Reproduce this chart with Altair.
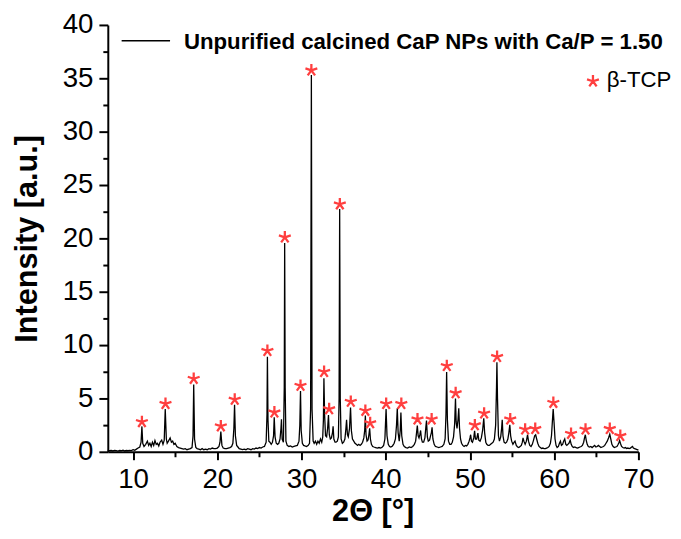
import altair as alt
import pandas as pd

# ---- XRD profile (2theta [deg], intensity [a.u.]) ----
seg_07_13 = [(7.0, .15), (7.2, .1), (7.4, .12), (7.6, .08), (7.8, .14), (8.0, .1), (8.2, .06), (8.4, .12),
             (8.6, .1), (8.8, .15), (9.0, .08), (9.2, .12), (9.4, .1), (9.6, .14), (9.8, .12), (10.0, .2),
             (10.2, .15), (10.4, .25), (10.6, .35), (10.8, .45), (10.95, .9), (11.05, 2.38), (11.15, .8),
             (11.3, .5), (11.5, .7), (11.7, 1.0), (11.85, .6), (12.0, .8), (12.15, .5), (12.3, .9),
             (12.45, .6), (12.6, 1.05), (12.75, .7), (12.9, .8)]
seg_13_20 = [(13.05, .55), (13.2, .9), (13.4, 1.1), (13.55, .7), (13.7, 1.1), (13.82, 4.0), (13.95, 1.2),
             (14.05, .8), (14.2, 1.0), (14.4, 1.3), (14.55, .9), (14.7, 1.0), (14.85, .7), (15.0, .8),
             (15.2, .5), (15.4, .4), (15.6, .35), (15.8, .3), (16.0, .25), (16.2, .3), (16.4, .2),
             (16.6, .25), (16.8, .3), (17.0, .4), (17.12, 1.5), (17.2, 6.3), (17.3, 1.2), (17.45, .4),
             (17.6, .3), (17.8, .25), (18.0, .2), (18.2, .3), (18.4, .2), (18.6, .25), (18.8, .2),
             (19.0, .3), (19.2, .25), (19.4, .35), (19.6, .3), (19.8, .3)]
seg_20_27 = [(20.0, .35), (20.2, .5), (20.32, .9), (20.42, 1.9), (20.55, .6), (20.7, .35), (20.9, .3),
             (21.1, .3), (21.3, .35), (21.5, .4), (21.7, .5), (21.85, .8), (21.97, 2.2), (22.05, 4.4),
             (22.15, 1.5), (22.3, .6), (22.45, .45), (22.6, .3), (22.8, .25), (23.0, .2), (23.2, .25),
             (23.4, .2), (23.6, .3), (23.8, .25), (24.0, .2), (24.2, .3), (24.4, .25), (24.6, .35),
             (24.8, .3), (25.0, .4), (25.2, .35), (25.4, .45), (25.6, .5), (25.8, .9), (25.9, 3.5),
             (25.95, 8.9), (26.02, 3.0), (26.12, 1.0), (26.25, .9), (26.4, .7), (26.55, .9),
             (26.68, 1.5), (26.76, 3.24), (26.86, 1.4)]
seg_27_33 = [(27.0, .8), (27.15, .7), (27.3, .8), (27.45, 1.2), (27.56, 2.2), (27.62, 3.05), (27.7, 1.2),
             (27.85, .9), (27.95, 6.0), (28.0, 19.56), (28.06, 6.0), (28.15, 1.0), (28.3, .6), (28.5, .5),
             (28.7, .55), (28.9, .45), (29.1, .5), (29.3, .55), (29.5, .6), (29.7, 1.0), (29.8, 2.5),
             (29.88, 5.7), (29.96, 2.0), (30.1, .8), (30.25, .6), (30.4, .55), (30.6, .5), (30.8, .6),
             (30.95, .8), (31.08, 4.0), (31.17, 35.3), (31.25, 4.0), (31.38, 1.0), (31.5, .8),
             (31.65, 1.0), (31.8, .7), (31.95, 1.0), (32.1, .8), (32.25, 1.2), (32.4, .9), (32.52, 1.4),
             (32.6, 3.0), (32.66, 6.9), (32.74, 3.5), (32.85, 1.5), (32.98, 1.4)]
seg_33_40 = [(33.1, 2.2), (33.2, 3.45), (33.3, 1.6), (33.42, 1.2), (33.55, 1.3), (33.68, 1.8), (33.75, 2.4),
             (33.84, 1.2), (33.98, .9), (34.1, .9), (34.25, 1.0), (34.38, 1.4), (34.46, 5.0),
             (34.53, 22.75), (34.6, 5.0), (34.7, 1.2), (34.85, .8), (35.0, .9), (35.15, 1.2), (35.25, 2.0),
             (35.35, 3.0), (35.45, 1.6), (35.55, 1.4), (35.7, 2.2), (35.82, 4.15), (35.92, 2.0),
             (36.05, 1.2), (36.2, 1.0), (36.35, .8), (36.5, .7), (36.65, .6), (36.8, .7), (36.95, .6),
             (37.1, .7), (37.25, .9), (37.4, 1.3), (37.5, 2.0), (37.58, 3.4), (37.66, 1.6), (37.78, 1.0),
             (37.9, 1.1), (38.0, 1.6), (38.09, 2.2), (38.18, 1.2), (38.3, .7), (38.45, .5), (38.6, .45),
             (38.8, .4), (39.0, .35), (39.2, .4), (39.4, .35), (39.6, .45), (39.75, .6), (39.9, 1.2)]
seg_40_47 = [(40.04, 4.0), (40.15, 1.5), (40.3, .7), (40.45, .5), (40.6, .45), (40.8, .55), (41.0, .8),
             (41.15, 1.2), (41.28, 2.5), (41.37, 4.07), (41.47, 1.8), (41.6, 1.0), (41.72, 2.0),
             (41.8, 3.67), (41.9, 1.5), (42.05, .7), (42.2, .5), (42.4, .4), (42.6, .35), (42.8, .45),
             (43.0, .4), (43.2, .5), (43.4, .7), (43.55, 1.0), (43.66, 1.8), (43.75, 2.47), (43.85, 1.5),
             (43.95, 1.3), (44.05, 1.6), (44.14, 2.0), (44.24, 1.2), (44.35, .9), (44.5, .9), (44.65, 1.3),
             (44.76, 2.3), (44.84, 2.93), (44.94, 1.4), (45.05, 1.0), (45.2, 1.1), (45.32, 1.5),
             (45.42, 1.8), (45.5, 2.3), (45.6, 1.2), (45.75, .7), (45.9, .5), (46.1, .45), (46.3, .4),
             (46.5, .45), (46.7, .5), (46.9, .7)]
seg_47_53 = [(47.05, 1.2), (47.15, 3.5), (47.23, 7.47), (47.32, 3.0), (47.45, 1.0), (47.6, .7), (47.75, .7),
             (47.9, .9), (48.05, 1.4), (48.18, 2.6), (48.28, 5.0), (48.36, 2.8), (48.46, 2.2), (48.58, 3.0),
             (48.67, 4.07), (48.76, 2.2), (48.88, 1.2), (49.0, .8), (49.15, .6), (49.3, .5), (49.45, .6),
             (49.6, .55), (49.75, .7), (49.9, 1.0), (50.0, 1.3), (50.08, 1.6), (50.18, 1.0), (50.3, .9),
             (50.45, 1.3), (50.55, 1.97), (50.65, 1.2), (50.8, 1.2), (50.94, 1.75), (51.05, 1.1),
             (51.2, 1.0), (51.35, 1.3), (51.5, 2.0), (51.64, 3.15), (51.74, 1.8), (51.88, .9), (52.0, .7),
             (52.15, .6), (52.3, .6), (52.45, .7), (52.6, .8), (52.75, .9), (52.9, 1.2)]
seg_53_60 = [(53.05, 2.5), (53.15, 6.0), (53.2, 8.4), (53.27, 5.0), (53.38, 1.5), (53.5, 1.0), (53.65, 1.4),
             (53.76, 2.2), (53.83, 3.0), (53.92, 1.5), (54.05, .9), (54.2, .8), (54.35, .9), (54.5, 1.2),
             (54.62, 1.8), (54.73, 2.53), (54.83, 1.5), (54.95, 1.0), (55.1, .7), (55.25, .9), (55.35, 1.0),
             (55.5, .6), (55.65, .45), (55.8, .4), (55.95, .5), (56.1, .6), (56.22, .9), (56.3, 1.3),
             (56.4, 1.0), (56.55, .7), (56.7, 1.0), (56.84, 1.6), (56.95, 1.0), (57.1, .6), (57.25, .5),
             (57.4, .7), (57.55, 1.1), (57.68, 1.5), (57.8, 1.6), (57.92, 1.2), (58.05, .8), (58.2, .5),
             (58.35, .4), (58.5, .3), (58.65, .35), (58.8, .3), (58.95, .3), (59.1, .35), (59.25, .4),
             (59.4, .5), (59.55, .8), (59.68, 1.5), (59.78, 2.8)]
seg_60_70 = [(59.88, 4.0), (59.98, 2.8), (60.1, 1.2), (60.22, .6), (60.35, .4), (60.5, .5), (60.62, .8),
             (60.74, 1.0), (60.86, .6), (61.0, .7), (61.12, 1.0), (61.25, 1.2), (61.38, .7), (61.5, .6),
             (61.62, .7), (61.75, .8), (61.9, 1.1), (62.02, .7), (62.15, .5), (62.3, .4), (62.45, .45),
             (62.6, .4), (62.75, .35), (62.9, .4), (63.05, .45), (63.2, .5), (63.35, .6), (63.5, .9),
             (63.6, 1.3), (63.7, 1.6), (63.8, 1.1), (63.92, .7), (64.05, .5), (64.2, .45), (64.35, .5),
             (64.5, .4), (64.65, .5), (64.8, .6), (64.95, .45), (65.1, .5), (65.25, .6), (65.4, .5),
             (65.55, .4), (65.7, .45), (65.85, .5), (66.0, .6), (66.15, .8), (66.3, 1.0), (66.45, 1.3),
             (66.6, 1.65), (66.72, 1.2), (66.85, .7), (67.0, .5), (67.15, .4), (67.3, .45), (67.45, .5),
             (67.6, .7), (67.7, .9), (67.77, 1.05), (67.86, .8), (68.0, .5), (68.15, .4), (68.3, .35),
             (68.45, .4), (68.6, .3), (68.75, .35), (68.9, .3), (69.05, .35), (69.2, .45), (69.3, .5),
             (69.4, .35), (69.55, .3), (69.7, .25), (69.85, .2), (70.0, .15)]

# ---- beta-TCP markers (asterisks) ----
star_2theta = [11.05, 13.85, 17.2, 20.42, 22.07, 25.95, 26.78, 28.02, 29.88, 31.17, 32.68, 33.28,
               34.55, 35.85, 37.58, 38.15, 40.05, 41.85, 43.77, 45.45, 47.25, 48.3, 50.58, 51.68,
               53.22, 54.78, 56.55, 57.75, 59.9, 62.0, 63.72, 66.6, 67.85]
star_intensity = [2.8, 4.5, 6.85, 2.4, 4.9, 9.47, 3.7, 20.1, 6.2, 35.75, 7.5, 4.0,
                  23.2, 4.7, 3.85, 2.7, 4.5, 4.5, 3.05, 3.05, 8.05, 5.5, 2.5, 3.6,
                  8.9, 3.05, 2.1, 2.15, 4.6, 1.7, 2.1, 2.15, 1.5]

series_label = "Unpurified calcined CaP NPs with Ca/P = 1.50"
phase_label = "β-TCP"

x_major = [10, 20, 30, 40, 50, 60, 70]
x_minor = [15, 25, 35, 45, 55, 65]
y_major = [0, 5, 10, 15, 20, 25, 30, 35, 40]
y_minor = [2.5, 7.5, 12.5, 17.5, 22.5, 27.5, 32.5, 37.5]

profile = (seg_07_13 + seg_13_20 + seg_20_27 + seg_27_33 + seg_33_40 +
           seg_40_47 + seg_47_53 + seg_53_60 + seg_60_70)
df = pd.DataFrame(profile, columns=["tt", "I"])
df_star = pd.DataFrame({"tt": star_2theta, "I": star_intensity})

FONT = "Liberation Sans"
RED = "#ff3f3f"
STAR = ("M0,-1L0,0M0.951,-0.309L0,0M0.588,0.809L0,0"
        "M-0.588,0.809L0,0M-0.951,-0.309L0,0")

xs = alt.Scale(domain=[7, 70], nice=False, zero=False)
ys = alt.Scale(domain=[0, 40], nice=False, zero=False)

common_axis = dict(domainColor="black", domainWidth=2, tickColor="black", tickWidth=2,
                   labelFont=FONT, labelColor="black", labelFontSize=28, grid=False,
                   labelFlush=False, labelOverlap=False,
                   titleFont=FONT, titleColor="black", titleFontWeight="bold", titleFontSize=31)

x_ax = alt.Axis(values=x_major, tickSize=8, labelPadding=6, orient="bottom",
                title="2Θ [°]", titleX=268, titleY=61, titleBaseline="middle",
                titleAlign="center", format="d", **common_axis)
y_ax = alt.Axis(values=y_major, tickSize=9, labelPadding=6, orient="left",
                title="Intensity [a.u.]", titleX=-81, titleY=216, titleAngle=-90,
                titleBaseline="middle", titleAlign="center", format="d", **common_axis)
x_ax_minor = alt.Axis(values=x_minor, tickSize=5, labels=False, domain=False, title=None,
                      orient="bottom", grid=False, tickColor="black", tickWidth=2)
y_ax_minor = alt.Axis(values=y_minor, tickSize=5, labels=False, domain=False, title=None,
                      orient="left", grid=False, tickColor="black", tickWidth=2)

line = alt.Chart(df).mark_line(color="black", strokeWidth=1.3, interpolate="linear").encode(
    x=alt.X("tt:Q", scale=xs, axis=x_ax),
    y=alt.Y("I:Q", scale=ys, axis=y_ax),
)

stars = alt.Chart(df_star).mark_point(shape=STAR, filled=False, color=RED, size=160,
                                      strokeWidth=2.3, opacity=1).encode(
    x=alt.X("tt:Q", scale=xs, axis=x_ax_minor),
    y=alt.Y("I:Q", scale=ys, axis=y_ax_minor),
)

leg_df = pd.DataFrame({"series": [series_label], "phase": [phase_label]})
leg_line = alt.Chart(leg_df).mark_rule(color="black", strokeWidth=1.3).encode(
    x=alt.value(14), x2=alt.value(63), y=alt.value(16))
leg_text = alt.Chart(leg_df).mark_text(font=FONT, fontSize=22.5, fontWeight="bold", color="black",
                                       align="left", baseline="middle").encode(
    x=alt.value(77), y=alt.value(17), text="series:N")
leg_star = alt.Chart(leg_df).mark_point(shape=STAR, filled=False, color=RED, size=160,
                                        strokeWidth=2.3, opacity=1).encode(
    x=alt.value(491), y=alt.value(57))
leg_phase = alt.Chart(leg_df).mark_text(font=FONT, fontSize=22.5, color="black",
                                        align="left", baseline="middle").encode(
    x=alt.value(505), y=alt.value(56), text="phase:N")

chart = alt.layer(line, stars, leg_line, leg_text, leg_star, leg_phase).resolve_axis(
    x="independent", y="independent"
).properties(
    width=537, height=432,
    autosize=alt.AutoSizeParams(type="none"),
    padding={"left": 101, "top": 14, "right": 35, "bottom": 77},
    background="white",
).configure_view(stroke=None)

chart.save("out.html", embed_options={"renderer": "svg", "actions": False})
